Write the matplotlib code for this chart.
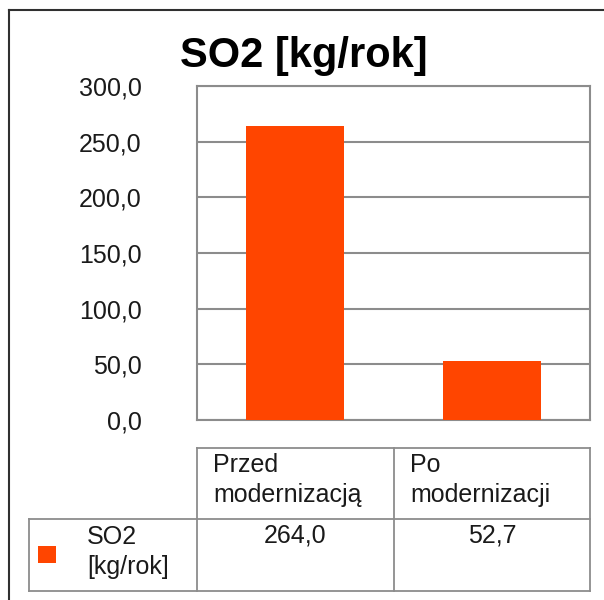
import matplotlib
matplotlib.use("Agg")
import matplotlib.pyplot as plt
from matplotlib.lines import Line2D
from matplotlib.patches import Rectangle

categories = ["Przed\nmodernizacją", "Po\nmodernizacji"]
values = [264.0, 52.7]
series_name = "SO2\n[kg/rok]"
title = "SO2 [kg/rok]"
yticks = [0, 50, 100, 150, 200, 250, 300]

BAR = "#FF4500"
GRID = "#8c8c8c"
TXT = "#1a1a1a"
W, H = 604, 600

plt.rcParams['font.family'] = ['Liberation Sans', 'DejaVu Sans']
fig = plt.figure(figsize=(W / 100, H / 100), dpi=100)

def fx(x):
    return x / W

def fy(y):
    return 1 - y / H

# plot area
L, R, T, B = 197, 590, 86, 420
ax = fig.add_axes([fx(L), fy(B), fx(R) - fx(L), fy(T) - fy(B)])
x = list(range(len(values)))
ax.bar(x, values, width=0.5, color=BAR, edgecolor='none', zorder=3)
ax.set_xlim(-0.5, len(values) - 0.5)
ax.set_ylim(0, 300)
ax.set_yticks(yticks)
ax.set_yticklabels([f"{v:.1f}".replace(".", ",") for v in yticks], fontsize=18, color=TXT)
ax.set_xticks([])
ax.tick_params(axis='y', length=0, pad=40)
ax.yaxis.grid(True, color=GRID, linewidth=1.5)
ax.set_axisbelow(True)
for s in ax.spines.values():
    s.set_color(GRID)
    s.set_linewidth(1.5)

# title
fig.text(fx(304), fy(56), title, fontsize=30, fontweight='bold', ha='center', va='center', color='black')

# figure border (left + top)
def line(x0, y0, x1, y1, color=GRID, lw=1.3):
    fig.add_artist(Line2D([fx(x0), fx(x1)], [fy(y0), fy(y1)], color=color, linewidth=lw,
                          transform=fig.transFigure))

line(9, 10, 604, 10, color="#303030", lw=1.5)
line(9, 10, 9, 600, color="#303030", lw=1.5)

# data table
cols = [197, 394, 590]
top, mid, bot = 448, 519, 591
leg_left = 29
line(cols[0], top, cols[-1], top)
line(leg_left, mid, cols[-1], mid)
line(leg_left, bot, cols[-1], bot)
for c in cols:
    line(c, top, c, bot)
line(leg_left, mid, leg_left, bot)

for i, cat in enumerate(categories):
    fig.text(fx(cols[i] + 16), fy(453), cat, fontsize=18, ha='left', va='top',
             color=TXT, linespacing=1.3)
    cx = (cols[i] + cols[i + 1]) / 2
    fig.text(fx(cx), fy(524), f"{values[i]:.1f}".replace(".", ","), fontsize=18,
             ha='center', va='top', color=TXT)

fig.text(fx(87), fy(525), series_name, fontsize=18, ha='left', va='top', color=TXT, linespacing=1.3)
fig.add_artist(Rectangle((fx(38), fy(563)), fx(56) - fx(38), fy(546) - fy(563),
                         facecolor=BAR, edgecolor='none', transform=fig.transFigure))

fig.savefig("out.png", dpi=100)
